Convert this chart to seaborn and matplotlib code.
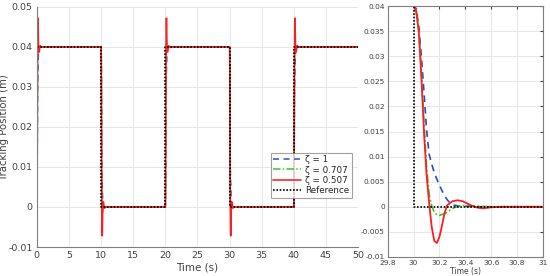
import numpy as np
import pandas as pd
import matplotlib
matplotlib.use("Agg")
import matplotlib.pyplot as plt
import seaborn as sns

# ------------------------------
# data
# ------------------------------
# falling-edge transients, time after the step (s), position (m)
t_blue = [-0.2, 0.0, 0.02, 0.04, 0.06, 0.08, 0.10, 0.12, 0.14, 0.16, 0.18, 0.20,
          0.22, 0.24, 0.26, 0.28, 0.30, 0.34, 0.40, 0.50, 1.0]
y_blue = [0.04, 0.04, 0.0395, 0.036, 0.030, 0.023, 0.0155, 0.0105, 0.0085, 0.0068,
          0.0055, 0.0043, 0.0032, 0.0022, 0.0014, 0.0008, 0.0004, 0.0002, 0.0001, 0.0, 0.0]

t_green = [-0.2, 0.0, 0.02, 0.04, 0.06, 0.08, 0.10, 0.12, 0.14, 0.16, 0.18, 0.20,
           0.24, 0.28, 0.32, 0.36, 0.42, 0.50, 0.60, 1.0]
y_green = [0.04, 0.04, 0.039, 0.035, 0.027, 0.017, 0.008, 0.0025, 0.0002, -0.0011,
           -0.0016, -0.0017, -0.0014, -0.0007, -0.0001, 0.0002, 0.0003, 0.0001, 0.0, 0.0]

t_red = [-0.2, 0.0, 0.01, 0.02, 0.04, 0.06, 0.08, 0.10, 0.12, 0.14, 0.16, 0.18,
         0.20, 0.22, 0.24, 0.26, 0.30, 0.34, 0.38, 0.42, 0.46, 0.50, 0.54, 0.60, 0.70, 1.0]
y_red = [0.04, 0.04, 0.0398, 0.039, 0.035, 0.026, 0.015, 0.0065, 0.0008, -0.004,
         -0.0068, -0.0072, -0.006, -0.0037, -0.0012, 0.0003, 0.0011, 0.0013, 0.0011,
         0.0006, 0.0001, -0.0002, -0.0003, -0.0001, 0.0, 0.0]

# square-wave reference: edge times and level after each edge
edges = [0, 10, 20, 30, 40]
levels = [0.04, 0.0, 0.04, 0.0, 0.04]
high = 0.04
t_end = 50

series = [
    ("ζ = 1", t_blue, y_blue, "#2a4cc0", (0, (4, 3)), 1.2),
    ("ζ = 0.707", t_green, y_green, "#3cc01e", (0, (5, 1.5, 1, 1.5)), 1.2),
    ("ζ = 0.507", t_red, y_red, "#ff1e1e", "-", 1.3),
]

# ------------------------------
# helpers
# ------------------------------
def full_run(t_rel, y_fall):
    t_rel = np.array(t_rel)
    y_fall = np.array(y_fall)
    keep = t_rel >= 0
    ts, ys = [], []
    for e, lv in zip(edges, levels):
        if lv > 0:
            ys.extend(high - y_fall[keep])
        else:
            ys.extend(y_fall[keep])
        ts.extend(e + t_rel[keep])
    ts.append(t_end)
    ys.append(levels[-1])
    return pd.DataFrame({"t": ts, "y": ys})

def ref_run():
    ts, ys = [0], [0.0]
    prev = 0.0
    for e, lv in zip(edges, levels):
        ts += [e, e]
        ys += [prev, lv]
        prev = lv
    ts.append(t_end)
    ys.append(prev)
    return pd.DataFrame({"t": ts, "y": ys})

sns.set_style("whitegrid")
plt.rcParams["font.family"] = ["DejaVu Sans"]

fig = plt.figure(figsize=(5.5, 2.76), dpi=100)
ax1 = fig.add_axes([0.067, 0.105, 0.584, 0.870])
ax2 = fig.add_axes([0.705, 0.069, 0.282, 0.909])

txt = "#404040"
grid = "#e6e6e6"

# ------------------------------
# left: full run
# ------------------------------
for label, tt, yy, col, ls, lw in series:
    df = full_run(tt, yy)
    sns.lineplot(data=df, x="t", y="y", ax=ax1, color=col, linestyle=ls,
                 linewidth=lw * 0.9, estimator=None, sort=False, label=label)
sns.lineplot(data=ref_run(), x="t", y="y", ax=ax1, color="black",
             linestyle=(0, (1, 1)), linewidth=1.2, estimator=None, sort=False,
             label="Reference")

ax1.set_xlim(0, 50)
ax1.set_ylim(-0.01, 0.05)
ax1.set_xticks(np.arange(0, 51, 5))
ax1.set_yticks(np.arange(-0.01, 0.051, 0.01))
ax1.set_yticklabels(["-0.01", "0", "0.01", "0.02", "0.03", "0.04", "0.05"])
ax1.set_xlabel("Time (s)", fontsize=7.5, color=txt, labelpad=2)
ax1.set_ylabel("Tracking Position (m)", fontsize=7.3, color=txt)
ax1.yaxis.set_label_coords(-0.088, 0.5)
ax1.tick_params(labelsize=6.8, colors=txt, direction="in", length=3, pad=3)
for s in ["top", "right"]:
    ax1.spines[s].set_visible(False)
for s in ["left", "bottom"]:
    ax1.spines[s].set_color("#7f7f7f")
    ax1.spines[s].set_linewidth(0.8)
ax1.grid(True, color=grid, linewidth=0.7)

leg = ax1.legend(loc="lower right", bbox_to_anchor=(0.98, 0.205), fontsize=6.3,
                 frameon=True, fancybox=False, edgecolor="#8a8a8a",
                 handlelength=3.2, handletextpad=0.4, borderpad=0.3,
                 labelspacing=0.15, borderaxespad=0)
leg.get_frame().set_linewidth(0.8)
for t in leg.get_texts():
    t.set_color("#262626")

# ------------------------------
# right: zoom on t = 30 s
# ------------------------------
for label, tt, yy, col, ls, lw in series:
    df = pd.DataFrame({"t": 30 + np.array(tt), "y": yy})
    sns.lineplot(data=df, x="t", y="y", ax=ax2, color=col, linestyle=ls,
                 linewidth=lw, estimator=None, sort=False, legend=False)
ref_zoom = pd.DataFrame({"t": [29.8, 30, 30, 31], "y": [0.04, 0.04, 0.0, 0.0]})
sns.lineplot(data=ref_zoom, x="t", y="y", ax=ax2, color="black",
             linestyle=(0, (1, 1)), linewidth=1.2, estimator=None, sort=False,
             legend=False)

ax2.set_xlim(29.8, 31)
ax2.set_ylim(-0.01, 0.04)
xt = [29.8, 30, 30.2, 30.4, 30.6, 30.8, 31]
ax2.set_xticks(xt)
ax2.set_xticklabels([f"{v:g}" for v in xt])
yt = [-0.01, -0.005, 0, 0.005, 0.01, 0.015, 0.02, 0.025, 0.03, 0.035, 0.04]
ax2.set_yticks(yt)
ax2.set_yticklabels([f"{v:g}" for v in yt])
ax2.set_xlabel("Time (s)", fontsize=5.5, color=txt, labelpad=1)
ax2.set_ylabel("")
ax2.tick_params(labelsize=5.3, colors=txt, direction="in", length=2.5, pad=2,
                right=True, top=True)
for s in ax2.spines.values():
    s.set_visible(True)
    s.set_color("#7f7f7f")
    s.set_linewidth(0.8)
ax2.grid(True, color=grid, linewidth=0.7)

fig.savefig("out.png", dpi=100)
